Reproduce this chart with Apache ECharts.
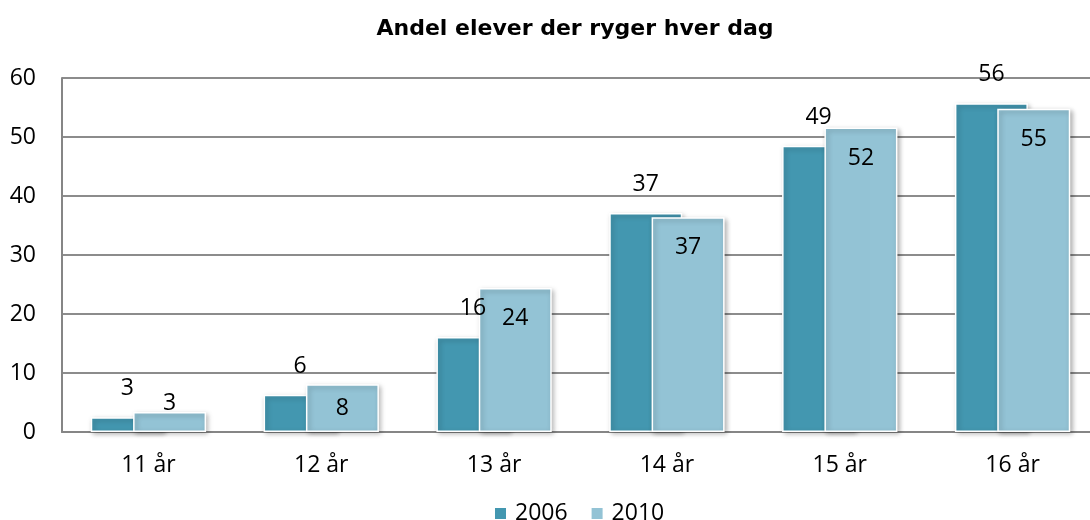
<!DOCTYPE html>
<html>
<head>
<meta charset="utf-8">
<script src="https://cdn.jsdelivr.net/npm/echarts@6/dist/echarts.min.js"></script>
<style>
  html, body { margin: 0; padding: 0; background: #fff; }
  #main { width: 1090px; height: 520px; }
</style>
</head>
<body>
<div id="main"></div>
<script>
// data
const categories = ['11 år', '12 år', '13 år', '14 år', '15 år', '16 år'];
const values2006 = [2.5, 6.3, 16.1, 37.1, 48.5, 55.7];
const values2010 = [3.4, 8.1, 24.4, 36.4, 51.6, 54.8];
const labels2006 = ['3', '6', '16', '37', '49', '56'];
const labels2010 = ['3', '8', '24', '37', '52', '55'];
const yTicks = [0, 10, 20, 30, 40, 50, 60];

const FONT = '"Open Sans", sans-serif';

const barStyle = (color) => ({
  color: color,
  borderColor: '#fff',
  borderWidth: 1.5,
  shadowColor: 'rgba(0,0,0,0.3)',
  shadowBlur: 5,
  shadowOffsetX: 2,
  shadowOffsetY: 2
});

// 2010 labels: above small bars, middle of short bars, near top of tall ones
const data2010 = values2010.map((v, i) => {
  let label = { position: 'insideTop', distance: 19 };
  if (v < 5) label = { position: 'top', distance: -3 };
  else if (v < 10) label = { position: 'inside' };
  return { value: v, label: Object.assign({ formatter: labels2010[i] }, label) };
});

const option = {
  animation: false,
  title: {
    text: 'Andel elever der ryger hver dag',
    left: 570,
    top: 13,
    textAlign: 'center',
    textStyle: { fontFamily: '"DejaVu Sans", sans-serif', fontWeight: 'bold', fontSize: 22, color: '#000' }
  },
  legend: {
    data: ['2006', '2010'],
    left: 488,
    top: 497,
    itemWidth: 13,
    itemHeight: 13,
    itemGap: 22,
    icon: 'rect',
    textStyle: { fontFamily: FONT, fontSize: 23, color: '#000', padding: [0, 0, 0, 3] }
  },
  // plot runs past the right edge, as in the source picture
  grid: { left: 62, width: 1037, top: 78, bottom: 88, outerBoundsMode: 'none' },
  xAxis: {
    type: 'category',
    data: categories,
    axisLine: { lineStyle: { color: '#868686', width: 2 } },
    axisTick: { show: false },
    axisLabel: { fontFamily: FONT, fontSize: 23, color: '#000', margin: 22 }
  },
  yAxis: {
    type: 'value',
    min: yTicks[0],
    max: yTicks[yTicks.length - 1],
    interval: 10,
    axisLine: { show: true, lineStyle: { color: '#868686', width: 2 } },
    axisTick: { show: false },
    splitLine: { lineStyle: { color: '#8c8c8c', width: 2 } },
    axisLabel: { fontFamily: FONT, fontSize: 23, color: '#000', margin: 26 }
  },
  series: [
    {
      name: '2006',
      type: 'bar',
      data: values2006,
      barWidth: 73,
      barGap: '-42%',
      itemStyle: barStyle('#4397b0'),
      label: {
        show: true,
        position: 'top',
        distance: 17,
        fontFamily: FONT,
        fontSize: 23,
        color: '#000',
        formatter: (p) => labels2006[p.dataIndex]
      }
    },
    {
      name: '2010',
      type: 'bar',
      data: data2010,
      barWidth: 73,
      itemStyle: barStyle('#93c3d5'),
      label: {
        show: true,
        fontFamily: FONT,
        fontSize: 23,
        color: '#000'
      }
    }
  ]
};

const myChart = echarts.init(document.getElementById('main'));
myChart.setOption(option);
</script>
</body>
</html>
